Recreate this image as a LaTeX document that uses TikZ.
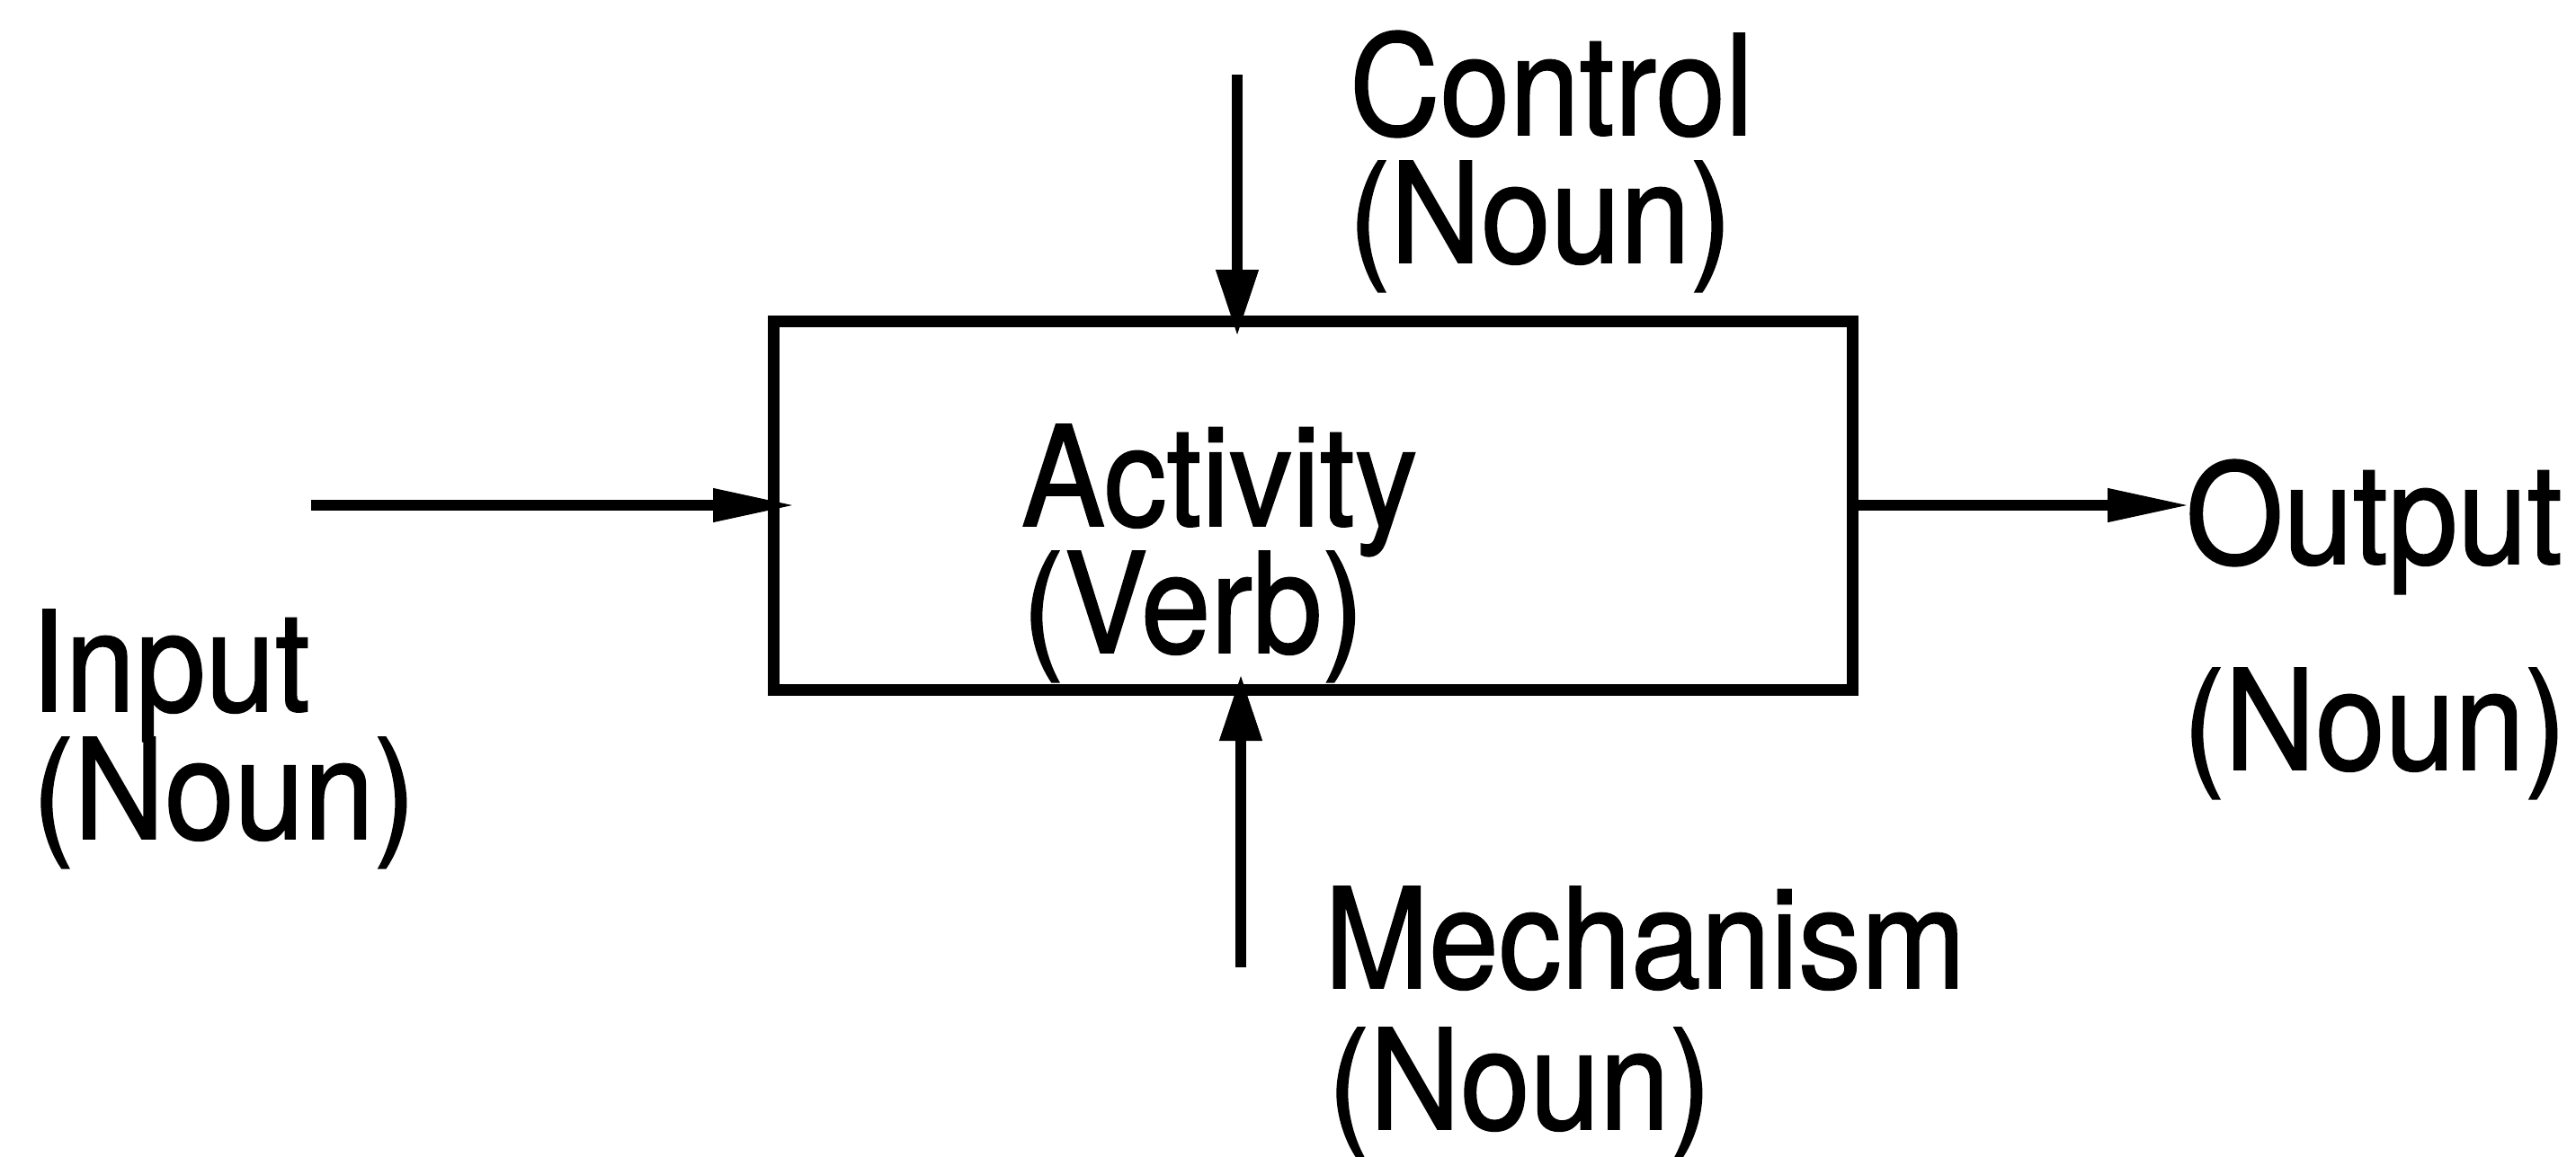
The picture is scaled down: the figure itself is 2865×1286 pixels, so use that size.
\documentclass[tikz,border=0pt]{standalone}
\usepackage{fontspec}
\setmainfont{TeX Gyre Heros}[FakeStretch=0.9,FakeBold=1.1]
\usetikzlibrary{arrows.meta}
\begin{document}
\begin{tikzpicture}[x=1pt,y=-1pt,
  lbl/.style={anchor=base west, inner sep=0pt, outer sep=0pt, font=\fontsize{155}{155}\selectfont},
  conn/.style={line width=12pt},
  harr/.style={-{Triangle[length=88pt,width=38pt,line width=1pt]}},
  varr/.style={-{Triangle[length=72pt,width=48pt,line width=1pt]}}]
\useasboundingbox (0,0) rectangle (2865,1286);
\fill[white] (0,0) rectangle (2865,1286);
% activity box
\node[draw, line width=13pt, minimum width=1200pt, minimum height=410pt,
      inner sep=0pt, outer sep=0pt] (box) at (1460,562) {};
% free ends
\coordinate (inStart) at (346,562);
\coordinate (outEnd) at (2432,562);
\coordinate (ctlTop) at (1376,83);
\coordinate (mechBot) at (1380,1076);
% labels
\node[lbl] (ctlA) at (1501,150) {Control};
\node[lbl] (ctlB) at (1500,292) {(Noun)};
\node[lbl] (actA) at (1136,585) {Activity};
\node[lbl] (actB) at (1137,726) {(Verb)};
\node[lbl] (inA) at (34,791) {Input};
\node[lbl] (inB) at (36,933) {(Noun)};
\node[lbl] (outA) at (2431,627) {Output};
\node[lbl] (outB) at (2428,856) {(Noun)};
\node[lbl] (mechA) at (1473,1099) {Mechanism};
\node[lbl] (mechB) at (1477,1256) {(Noun)};
% connectors
\draw[conn, harr, shorten >=-21pt] (inStart) -- (box.west);
\draw[conn, harr] (box.east) -- (outEnd);
\draw[conn, varr, shorten >=-15pt] (ctlTop) -- (ctlTop |- box.north);
\draw[conn, varr, shorten >=-15pt] (mechBot) -- (mechBot |- box.south);
\end{tikzpicture}
\end{document}
